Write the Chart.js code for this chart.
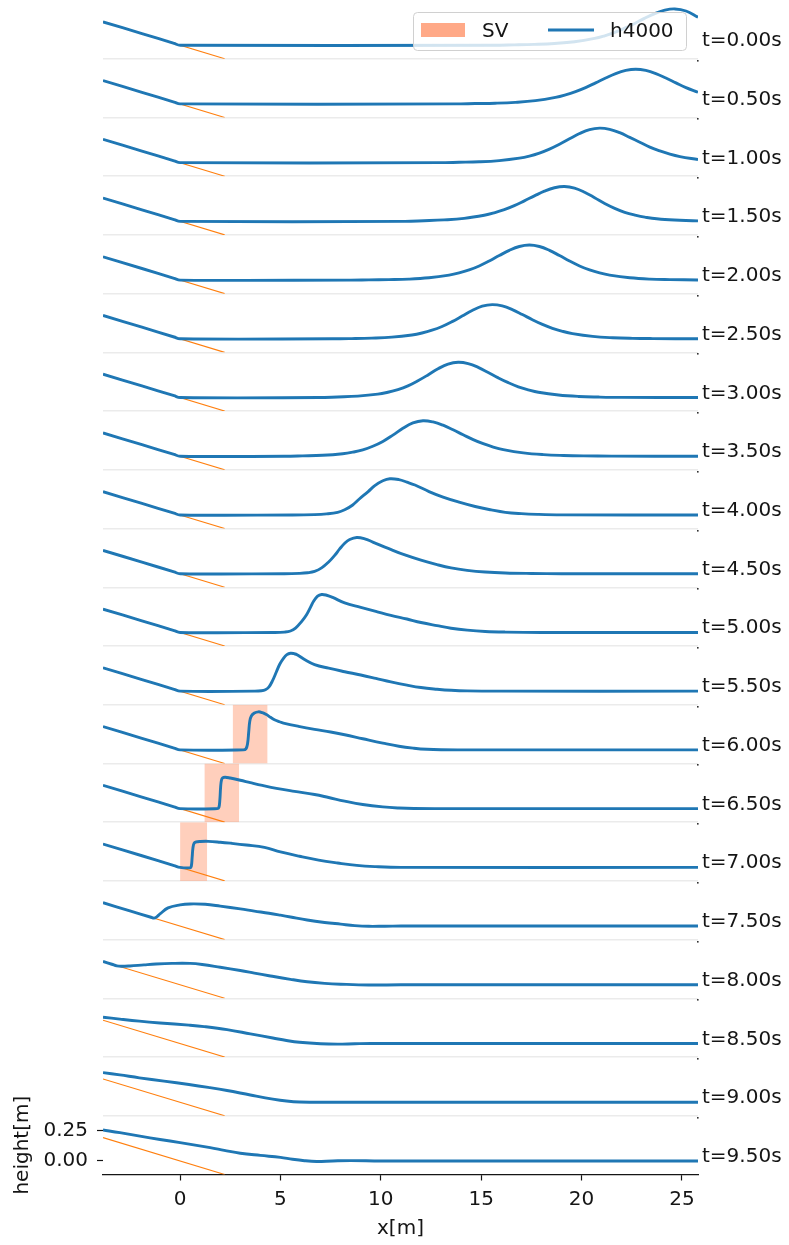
<!DOCTYPE html>
<html>
<head>
<meta charset="utf-8">
<title>h4000 runup</title>
<script src="https://cdn.jsdelivr.net/npm/chart.js@4/dist/chart.umd.min.js"></script>
<style>
  html, body { margin: 0; padding: 0; background: #fff; }
  canvas { display: block; }
</style>
</head>
<body>
<canvas id="runup" width="789" height="1245"></canvas>
<script>
// snapshot times, one panel each
const TIMES = [0.0, 0.5, 1.0, 1.5, 2.0, 2.5, 3.0, 3.5, 4.0, 4.5,
               5.0, 5.5, 6.0, 6.5, 7.0, 7.5, 8.0, 8.5, 9.0, 9.5];

// free surface h4000 per snapshot, [x (m), height (m)]
const h00 = [[-3.84,0.193],[-1.9,0.096],[-0.3,0.015],[0,0],[15.6,0],[16.65,0.003],[17.65,0.007],[18.65,0.014],[19.65,0.028],[20.65,0.056],[21.15,0.078],[21.65,0.106],[22.15,0.141],[22.65,0.18],[23.15,0.224],[23.65,0.262],[24.15,0.29],[24.65,0.3],[25.2,0.283],[25.8,0.232]];
const h05 = [[-3.84,0.193],[-1.9,0.096],[-0.3,0.015],[0,0],[13.7,0],[14.7,0.003],[15.7,0.006],[16.7,0.013],[17.7,0.027],[18.7,0.054],[19.2,0.075],[19.7,0.102],[20.2,0.135],[20.7,0.174],[21.2,0.214],[21.7,0.251],[22.2,0.277],[22.7,0.287],[23.2,0.277],[23.7,0.251],[24.2,0.214],[24.7,0.174],[25.2,0.135],[25.8,0.097]];
const h10 = [[-3.84,0.193],[-1.9,0.096],[-0.3,0.015],[0,0],[12.9,0],[13.9,0.003],[14.9,0.007],[15.9,0.017],[16.9,0.037],[17.4,0.054],[17.9,0.079],[18.4,0.112],[18.9,0.152],[19.4,0.197],[19.9,0.241],[20.4,0.274],[20.9,0.286],[21.4,0.276],[21.9,0.248],[22.4,0.209],[22.9,0.169],[23.4,0.129],[23.9,0.097],[24.4,0.07],[24.9,0.05],[25.8,0.026]];
const h15 = [[-3.84,0.193],[-1.9,0.096],[-0.3,0.015],[0,0],[11.2,0],[12.15,0.005],[13.15,0.012],[14.15,0.025],[15.15,0.051],[15.65,0.071],[16.15,0.097],[16.65,0.13],[17.15,0.17],[17.65,0.211],[18.15,0.25],[18.65,0.278],[19.15,0.288],[19.65,0.275],[20.15,0.241],[20.65,0.196],[21.15,0.148],[21.65,0.108],[22.15,0.075],[22.65,0.052],[23.15,0.035],[24.15,0.015],[25.8,0.004]];
const h20 = [[-3.84,0.193],[-1.9,0.096],[-0.3,0.015],[0,0],[8.5,0],[9.4,0.002],[10.4,0.004],[11.4,0.008],[12.4,0.019],[13.4,0.041],[13.9,0.059],[14.4,0.084],[14.9,0.117],[15.4,0.158],[15.9,0.203],[16.4,0.246],[16.9,0.278],[17.4,0.29],[17.9,0.278],[18.4,0.246],[18.9,0.203],[19.4,0.158],[19.9,0.117],[20.4,0.084],[20.9,0.059],[21.4,0.041],[22.4,0.019],[23.4,0.008],[24.4,0.004],[25.8,0.001]];
const h25 = [[-3.84,0.193],[-1.9,0.096],[-0.3,0.015],[0,0],[7.6,0],[8.55,0.002],[9.55,0.006],[10.55,0.014],[11.55,0.032],[12.05,0.048],[12.55,0.071],[13.05,0.102],[13.55,0.142],[14.05,0.188],[14.55,0.234],[15.05,0.27],[15.55,0.283],[16.05,0.272],[16.55,0.242],[17.05,0.201],[17.55,0.158],[18.05,0.119],[18.55,0.087],[19.05,0.062],[19.55,0.043],[20.55,0.02],[21.55,0.009],[22.55,0.004],[23.55,0.002],[25.8,0]];
const h30 = [[-3.84,0.193],[-1.9,0.096],[-0.3,0.015],[0,0],[6.9,0],[7.85,0.005],[8.85,0.012],[9.85,0.028],[10.35,0.044],[10.85,0.066],[11.35,0.097],[11.85,0.139],[12.35,0.187],[12.85,0.238],[13.35,0.277],[13.85,0.292],[14.35,0.281],[14.85,0.25],[15.35,0.207],[15.85,0.163],[16.35,0.123],[16.85,0.089],[17.35,0.064],[17.85,0.044],[18.85,0.021],[19.85,0.009],[20.85,0.004],[22,0.001],[25.8,0]];
const h35 = [[-3.84,0.193],[-1.9,0.096],[-0.3,0.015],[0,0],[5.2,0],[6.1,0.003],[7.1,0.008],[8.1,0.021],[8.6,0.034],[9.1,0.053],[9.6,0.083],[10.1,0.123],[10.6,0.175],[11.1,0.231],[11.6,0.276],[12.1,0.294],[12.6,0.284],[13.1,0.257],[13.6,0.219],[14.1,0.178],[14.6,0.138],[15.1,0.104],[15.6,0.076],[16.1,0.055],[17.1,0.028],[18.1,0.0135],[19.1,0.0065],[20.1,0.003],[21.5,0.001],[25.8,0]];
const h40 = [[-3.84,0.193],[-1.9,0.096],[-0.3,0.015],[0,0],[5.6,0],[6.7,0.003],[7.3,0.009],[7.85,0.022],[8.2,0.043],[8.6,0.083],[8.9,0.128],[9.37,0.194],[9.7,0.243],[10.1,0.283],[10.45,0.3],[10.9,0.293],[11.3,0.272],[11.7,0.248],[12.4,0.194],[13.1,0.148],[13.9,0.106],[14.7,0.07],[15.5,0.042],[16.2,0.022],[17,0.011],[17.8,0.005],[19,0.001],[25.8,0]];
const h45 = [[-3.84,0.193],[-1.9,0.096],[-0.3,0.015],[0,0],[5.2,0],[5.95,0.003],[6.35,0.008],[6.7,0.019],[7.05,0.048],[7.4,0.097],[7.7,0.152],[7.95,0.205],[8.2,0.252],[8.45,0.283],[8.8,0.3],[9.2,0.289],[9.6,0.262],[10.4,0.207],[11.2,0.155],[12.0,0.112],[12.8,0.075],[13.5,0.048],[14.3,0.028],[15.2,0.014],[16.2,0.006],[17.5,0.002],[19,0],[25.8,0]];
const h50 = [[-3.84,0.193],[-1.9,0.096],[-0.3,0.015],[0,0],[4.7,0],[5.2,0.003],[5.5,0.012],[5.75,0.036],[6.05,0.09],[6.3,0.147],[6.5,0.21],[6.65,0.258],[6.85,0.3],[7.05,0.314],[7.3,0.308],[7.6,0.29],[8.2,0.244],[9.0,0.208],[9.75,0.175],[10.5,0.142],[11.3,0.111],[12.0,0.082],[12.8,0.056],[13.5,0.035],[14.3,0.019],[15.2,0.008],[16.2,0.003],[18,0],[25.8,0]];
const h55 = [[-3.84,0.193],[-1.9,0.096],[-0.3,0.015],[0,0],[3.7,0],[4.05,0.003],[4.25,0.012],[4.43,0.036],[4.6,0.085],[4.8,0.161],[4.97,0.225],[5.15,0.272],[5.32,0.302],[5.5,0.314],[5.68,0.31],[5.85,0.3],[6.2,0.262],[6.7,0.22],[7.4,0.19],[8.2,0.161],[9.0,0.134],[9.75,0.106],[10.5,0.077],[11.3,0.05],[12,0.03],[12.8,0.016],[13.5,0.007],[14.3,0.002],[16,0],[25.8,0]];
const h60 = [[-3.84,0.193],[-1.9,0.096],[-0.3,0.015],[0,0],[3.15,0],[3.28,0.008],[3.36,0.05],[3.42,0.15],[3.47,0.235],[3.55,0.28],[3.7,0.305],[3.9,0.315],[4.1,0.308],[4.3,0.292],[4.5,0.27],[4.7,0.25],[4.95,0.233],[5.15,0.222],[5.9,0.195],[6.7,0.17],[7.5,0.148],[8.2,0.125],[9.1,0.092],[10.1,0.056],[10.9,0.03],[11.65,0.014],[12.3,0.005],[13,0.001],[14,0],[25.8,0]];
const h65 = [[-3.84,0.193],[-1.9,0.096],[-0.3,0.015],[0,0],[1.85,0],[1.93,0.008],[1.98,0.07],[2.02,0.18],[2.06,0.235],[2.12,0.255],[2.25,0.26],[2.5,0.253],[3.0,0.235],[3.5,0.215],[4.1,0.192],[4.8,0.168],[5.7,0.143],[6.7,0.117],[7.4,0.092],[8.2,0.062],[9.1,0.034],[10.1,0.014],[10.9,0.005],[11.65,0.001],[13,0],[25.8,0]];
const h70 = [[-3.84,0.193],[-1.9,0.096],[-0.3,0.015],[0,0],[0.5,-0.003],[0.56,0.01],[0.6,0.08],[0.64,0.16],[0.7,0.2],[0.8,0.21],[1.0,0.214],[1.4,0.215],[2.0,0.208],[2.5,0.2],[3.3,0.185],[4.2,0.165],[5.0,0.128],[5.95,0.092],[6.9,0.06],[7.85,0.036],[8.8,0.016],[9.75,0.006],[11,0],[25.8,0]];
const h75 = [[-3.84,0.193],[-2.5,0.126],[-1.45,0.073],[-1.3,0.066],[-1.18,0.074],[-1.0,0.1],[-0.6,0.15],[0,0.175],[0.5,0.183],[1.25,0.18],[2.0,0.165],[3.0,0.142],[3.7,0.124],[4.43,0.106],[5.0,0.09],[5.5,0.075],[6.33,0.05],[7.2,0.03],[8.0,0.016],[8.7,0.004],[9.4,-0.002],[10.2,-0.001],[11,0],[25.8,0]];
const h80 = [[-3.84,0.193],[-3.4,0.17],[-3.15,0.156],[-2.9,0.153],[-2.5,0.156],[-1.8,0.165],[-1.2,0.172],[-0.4,0.177],[0.5,0.177],[1.1,0.168],[2.0,0.145],[3.0,0.118],[3.7,0.097],[4.43,0.075],[5.5,0.045],[6.33,0.025],[7.2,0.012],[8.0,0.005],[9.4,-0.002],[11,0],[25.8,0]];
const h85 = [[-3.84,0.218],[-3,0.202],[-2.03,0.185],[-1,0.17],[0.44,0.152],[1.2,0.14],[2.34,0.115],[3.5,0.08],[4.62,0.046],[5.3,0.025],[5.95,0.01],[7.0,-0.002],[7.85,-0.005],[8.7,-0.002],[9.5,0],[25.8,0]];
const h90 = [[-3.84,0.245],[-3,0.226],[-2.03,0.202],[-0.8,0.175],[0.44,0.147],[1.4,0.123],[2.34,0.097],[3.5,0.06],[4.62,0.026],[5.3,0.01],[5.95,0.002],[7.5,0],[25.8,0]];
const h95 = [[-3.84,0.256],[-3,0.234],[-2,0.205],[-1,0.178],[0,0.152],[1.5,0.11],[2.2,0.088],[3.0,0.064],[4.0,0.046],[5,0.03],[5.6,0.014],[6.2,0.002],[6.8,-0.004],[7.6,0],[8.5,0.003],[10,0],[25.8,0]];
const PROFILES = [h00, h05, h10, h15, h20, h25, h30, h35, h40, h45,
                  h50, h55, h60, h65, h70, h75, h80, h85, h90, h95];

// sloping bed, 1:19.85
const BED_X = [-3.84, 2.22];
const BED_Z = [0.193, -0.112];

// SV shading: panel index and x extent
const SV_PANEL = [12, 13, 14];
const SV_X0 = [2.62, 1.21, 0.0];
const SV_X1 = [4.36, 2.94, 1.35];

const X_TICKS = [0, 5, 10, 15, 20, 25];
const Y_TICKS = [0, 0.25];
const X_MIN = -3.84, X_MAX = 25.8;
const Y_MIN = -0.112, Y_MAX = 0.374;

const BLUE = '#1f77b4';
const ORANGE = '#ff7f0e';
const SV_FILL = 'rgba(255, 160, 122, 0.5)';
const SV_PATCH = 'rgba(255, 160, 122, 0.9)';
const TEXT = '#151515';
const FONT = "'DejaVu Sans', sans-serif";
const AXIS_W = 103;
const N = TIMES.length;

Chart.defaults.font.family = FONT;
Chart.defaults.font.size = 20;
Chart.defaults.color = TEXT;

const datasets = [];
const scales = {};

PROFILES.forEach((prof, i) => {
  const yId = 'y' + i;
  datasets.push({
    label: 'h4000',
    data: prof.map(p => ({ x: p[0], y: p[1] })),
    yAxisID: yId,
    borderColor: BLUE,
    borderWidth: 2.9,
    pointRadius: 0,
    tension: 0.4,
    order: 0
  });
  datasets.push({
    label: 'bed',
    data: BED_X.map((x, k) => ({ x: x, y: BED_Z[k] })),
    yAxisID: yId,
    borderColor: ORANGE,
    borderWidth: 1.1,
    pointRadius: 0,
    order: 1
  });
  const s = SV_PANEL.indexOf(i);
  if (s >= 0) {
    datasets.push({
      label: 'SV',
      data: [{ x: SV_X0[s], y: Y_MAX }, { x: SV_X1[s], y: Y_MAX }],
      yAxisID: yId,
      borderWidth: 0,
      borderColor: 'rgba(0,0,0,0)',
      backgroundColor: SV_FILL,
      pointRadius: 0,
      fill: 'start',
      order: 2
    });
  }

  const last = i === N - 1;
  scales[yId] = {
    type: 'linear',
    position: 'left',
    stack: 'panels',
    stackWeight: 1,
    weight: N - i,
    min: Y_MIN,
    max: Y_MAX,
    border: { display: false },
    grid: last
      ? { drawOnChartArea: false, tickLength: 6, tickColor: TEXT, tickWidth: 1.2 }
      : { color: '#ebebeb', lineWidth: 1.5, drawTicks: false },
    ticks: last
      ? { display: true, padding: 9, callback: v => v.toFixed(2) }
      : { display: false },
    title: last
      ? { display: true, text: 'height[m]', padding: { top: 11, bottom: 0 } }
      : { display: false },
    afterBuildTicks: sc => {
      sc.ticks = (last ? Y_TICKS : [Y_MIN]).map(v => ({ value: v }));
    },
    afterFit: sc => {
      sc.width = AXIS_W;
      sc.paddingTop = 0;
      sc.paddingBottom = 0;
    }
  };
});

scales.x = {
  type: 'linear',
  position: 'bottom',
  min: X_MIN,
  max: X_MAX,
  border: { display: true, color: TEXT, width: 1.2 },
  grid: { drawOnChartArea: false, tickLength: 6, tickColor: TEXT, tickWidth: 1.2 },
  ticks: { padding: 7 },
  title: { display: true, text: 'x[m]', padding: { top: 4, bottom: 4 } },
  afterBuildTicks: sc => {
    sc.ticks = X_TICKS.map(v => ({ value: v }));
  },
  afterFit: sc => {
    sc.height = 70.5;
    sc.paddingLeft = 0;
    sc.paddingRight = 0;
  }
};

// time stamps on the right, tick dots at the panel corners, framed legend
const panelText = {
  id: 'panelText',
  afterDraw(chart) {
    const ctx = chart.ctx;
    const area = chart.chartArea;
    ctx.save();
    ctx.font = '20px ' + FONT;
    ctx.textAlign = 'left';
    ctx.textBaseline = 'alphabetic';
    TIMES.forEach((t, i) => {
      const sc = chart.scales['y' + i];
      ctx.fillStyle = TEXT;
      ctx.fillText('t=' + t.toFixed(2) + 's', area.right + 4, sc.getPixelForValue(0) + 1);
      if (i < N - 1) {
        ctx.fillStyle = '#333';
        ctx.fillRect(area.right - 1, Math.round(sc.bottom) + 1, 1.6, 1.6);
      }
    });

    // legend box
    const w = 273, h = 38;
    const x0 = area.right - 12 - w;
    const y0 = area.top + 12;
    ctx.beginPath();
    ctx.roundRect(x0 + 0.5, y0 + 0.5, w, h, 4);
    ctx.fillStyle = 'rgba(255,255,255,0.8)';
    ctx.fill();
    ctx.strokeStyle = '#d0d0d0';
    ctx.lineWidth = 1;
    ctx.stroke();

    ctx.fillStyle = SV_PATCH;
    ctx.fillRect(x0 + 8, y0 + 11, 44, 14);
    ctx.fillStyle = TEXT;
    ctx.fillText('SV', x0 + 69, y0 + 25);

    ctx.beginPath();
    ctx.moveTo(x0 + 135, y0 + 18);
    ctx.lineTo(x0 + 181, y0 + 18);
    ctx.strokeStyle = BLUE;
    ctx.lineWidth = 2.9;
    ctx.stroke();
    ctx.fillText('h4000', x0 + 197, y0 + 25);
    ctx.restore();
  }
};

new Chart(document.getElementById('runup'), {
  type: 'line',
  data: { datasets: datasets },
  options: {
    responsive: false,
    animation: false,
    devicePixelRatio: 1,
    layout: { padding: { top: -2, left: 0, right: 91, bottom: 0 } },
    plugins: {
      legend: { display: false },
      tooltip: { enabled: false }
    },
    scales: scales
  },
  plugins: [panelText]
});
</script>
</body>
</html>
